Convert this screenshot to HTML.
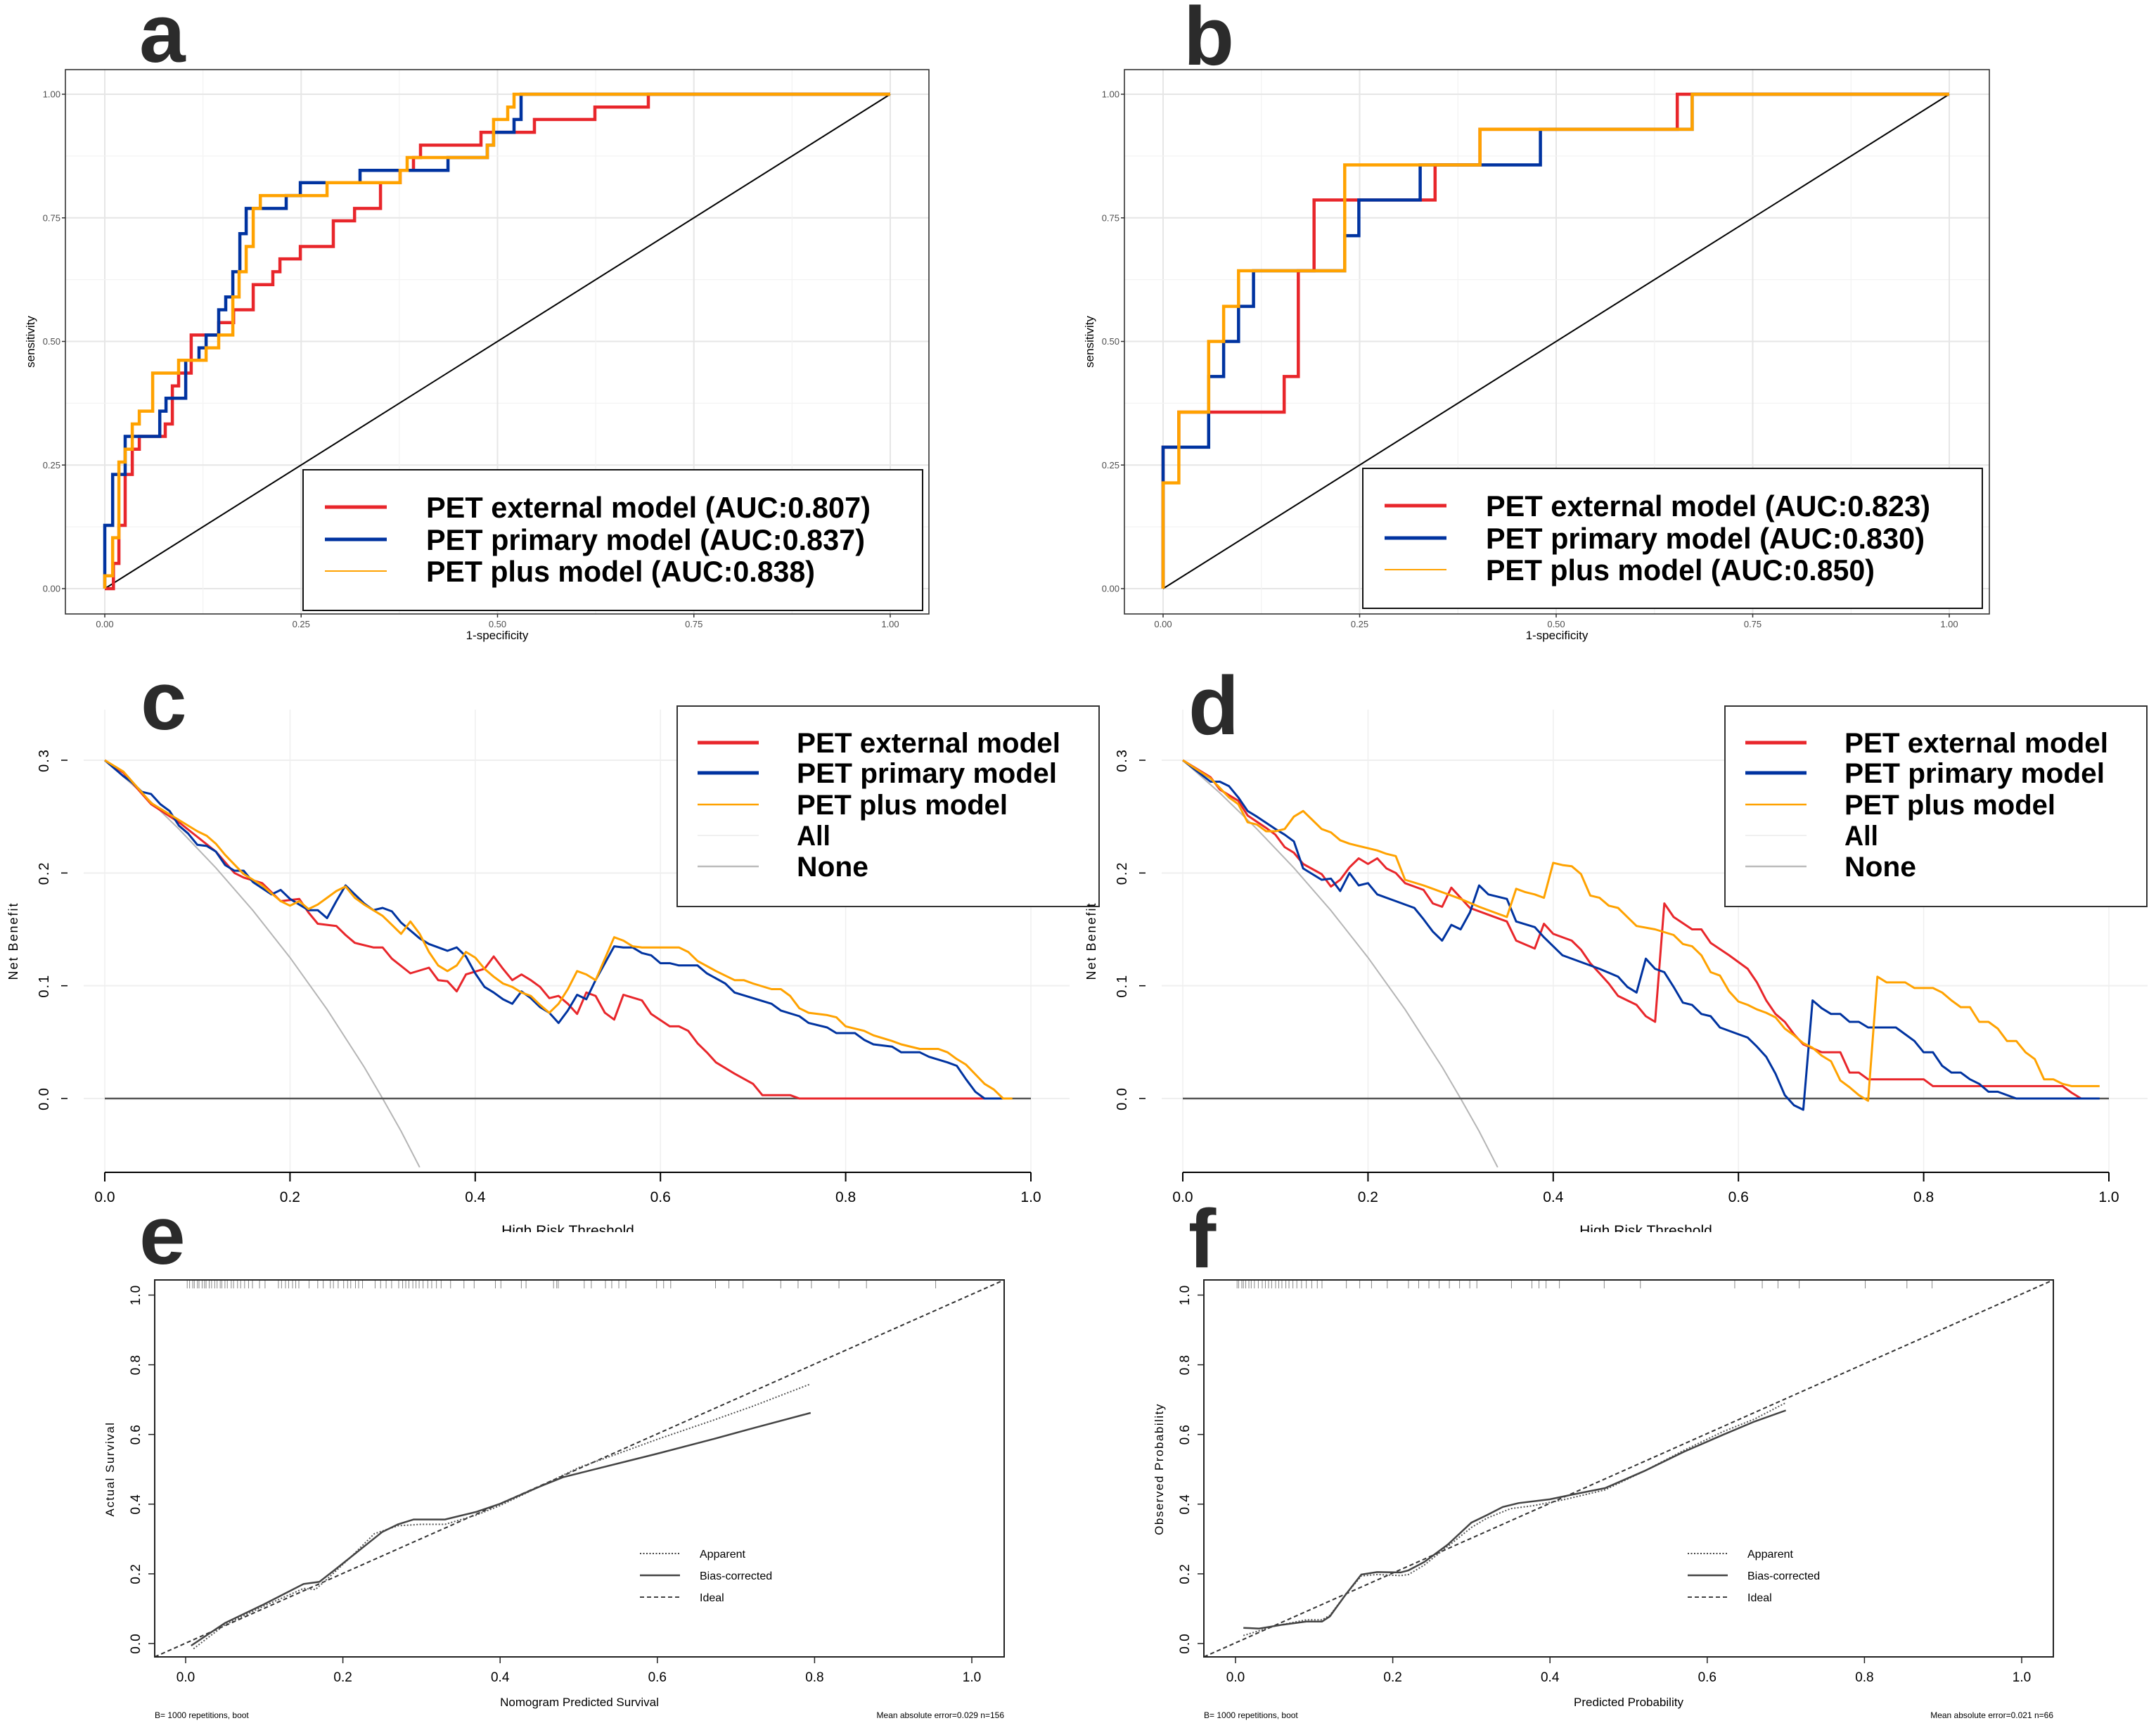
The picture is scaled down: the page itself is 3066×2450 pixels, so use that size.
<!DOCTYPE html>
<html><head><meta charset="utf-8"><title>Figure</title>
<style>
html,body{margin:0;padding:0;background:#fff;}
svg{display:block;font-family:"Liberation Sans",Arial,sans-serif;}
</style></head>
<body>
<svg id="fig" xmlns="http://www.w3.org/2000/svg" width="3066" height="2450" viewBox="0 0 3066 2450">
<rect x="0" y="0" width="3066" height="2450" fill="#fff"/>
<defs>
<clipPath id="clipTop"><rect x="0" y="0" width="3066" height="1752"/></clipPath>
</defs>
</svg>
<script>
// ---------- ROC data (panel a) ----------
const aRedFpr=[0.011,0.018,0.026,0.035,0.044,0.077,0.086,0.094,0.110,0.145,0.164,0.189,0.214,0.223,0.249,0.291,0.318,0.351,0.376,0.393,0.402,0.479,0.547,0.624,0.692];
const aRedTpr=[0.051,0.128,0.231,0.282,0.308,0.333,0.410,0.436,0.513,0.538,0.564,0.615,0.641,0.667,0.692,0.744,0.769,0.821,0.846,0.872,0.897,0.923,0.949,0.974,1];
const aBlueFpr=[0,0.010,0.026,0.070,0.078,0.103,0.120,0.129,0.145,0.154,0.163,0.172,0.180,0.231,0.249,0.325,0.437,0.487,0.495,0.521,0.530];
const aBlueTpr=[0.128,0.231,0.308,0.359,0.385,0.462,0.487,0.513,0.564,0.590,0.641,0.718,0.769,0.795,0.821,0.846,0.872,0.897,0.923,0.949,1];
const aOrFpr=[0,0.010,0.018,0.026,0.035,0.044,0.061,0.094,0.129,0.145,0.163,0.171,0.180,0.189,0.198,0.283,0.376,0.385,0.487,0.495,0.513,0.521];
const aOrTpr=[0.026,0.103,0.256,0.282,0.333,0.359,0.436,0.462,0.487,0.513,0.590,0.641,0.692,0.769,0.795,0.821,0.846,0.872,0.897,0.949,0.974,1];
// ---------- ROC data (panel b) ----------
const bRedFpr=[0,0.020,0.154,0.172,0.192,0.346,0.403,0.654];
const bRedTpr=[0.286,0.357,0.429,0.643,0.786,0.857,0.929,1];
const bBlueFpr=[0,0.058,0.077,0.096,0.115,0.231,0.249,0.327,0.480,0.673];
const bBlueTpr=[0.286,0.429,0.5,0.571,0.643,0.714,0.786,0.857,0.929,1];
const bOrFpr=[0,0.020,0.058,0.077,0.096,0.231,0.403,0.673];
const bOrTpr=[0.214,0.357,0.5,0.571,0.643,0.857,0.929,1];
const rocTicks=[0,0.25,0.5,0.75,1];
const rocTickLabels=["0.00","0.25","0.50","0.75","1.00"];
const aLegend=["PET external model (AUC:0.807)","PET primary model (AUC:0.837)","PET plus model (AUC:0.838)"];
const bLegend=["PET external model (AUC:0.823)","PET primary model (AUC:0.830)","PET plus model (AUC:0.850)"];
// ---------- DCA data (panel c) ----------
const cRedThr=[0,.02,.05,.08,.10,.12,.14,.15,.17,.19,.21,.22,.23,.25,.26,.27,.29,.30,.31,.33,.35,.36,.37,.38,.39,.41,.42,.43,.44,.45,.46,.47,.48,.49,.50,.51,.52,.53,.54,.55,.56,.58,.59,.61,.62,.63,.64,.65,.66,.68,.70,.71,.74,.75,.97];
const cRedNb=[.3,.289,.261,.245,.232,.219,.200,.196,.191,.175,.177,.165,.155,.153,.145,.138,.134,.134,.124,.111,.116,.105,.104,.095,.110,.115,.126,.115,.105,.110,.105,.099,.089,.091,.084,.075,.094,.091,.076,.070,.092,.087,.075,.064,.064,.060,.049,.041,.032,.022,.013,.003,.003,0,0];
const cBlueThr=[0,.02,.03,.04,.05,.06,.07,.08,.09,.10,.11,.12,.13,.14,.15,.16,.18,.19,.20,.22,.23,.24,.25,.26,.27,.28,.29,.30,.31,.32,.34,.35,.37,.38,.39,.40,.41,.42,.43,.44,.45,.46,.47,.48,.49,.50,.51,.52,.53,.55,.56,.57,.58,.59,.60,.61,.62,.64,.65,.67,.68,.70,.72,.73,.75,.76,.78,.79,.81,.82,.83,.85,.86,.88,.89,.91,.92,.93,.94,.95,.97];
const cBlueNb=[.3,.286,.28,.272,.27,.261,.255,.242,.235,.225,.224,.219,.207,.202,.202,.192,.181,.185,.177,.167,.167,.160,.175,.189,.181,.173,.167,.169,.166,.156,.142,.137,.131,.134,.126,.111,.099,.094,.088,.084,.095,.089,.081,.076,.067,.078,.092,.088,.105,.135,.134,.134,.129,.127,.120,.120,.118,.118,.111,.102,.094,.089,.084,.078,.073,.067,.063,.058,.058,.052,.048,.046,.041,.041,.037,.032,.029,.017,.006,0,0];
const cOrThr=[0,.02,.05,.08,.10,.11,.12,.13,.15,.17,.19,.20,.21,.22,.23,.24,.25,.26,.27,.28,.29,.30,.31,.32,.33,.34,.35,.36,.37,.38,.39,.40,.41,.42,.43,.44,.45,.46,.47,.48,.49,.50,.51,.52,.53,.54,.55,.56,.57,.58,.62,.63,.64,.66,.68,.69,.70,.72,.73,.74,.75,.76,.78,.79,.80,.82,.83,.85,.86,.88,.90,.91,.92,.93,.95,.96,.97,.98];
const cOrNb=[.3,.290,.262,.247,.237,.233,.226,.216,.199,.189,.175,.171,.175,.168,.172,.178,.184,.188,.178,.172,.167,.162,.154,.146,.157,.146,.130,.118,.113,.118,.130,.125,.115,.108,.102,.099,.094,.091,.083,.076,.084,.097,.113,.110,.105,.124,.143,.140,.135,.134,.134,.130,.122,.113,.105,.105,.102,.097,.097,.091,.080,.076,.074,.072,.064,.060,.056,.051,.048,.044,.044,.041,.035,.030,.013,.008,0,0];
// ---------- DCA data (panel d) ----------
const dRedThr=[0,.03,.04,.05,.06,.07,.09,.10,.11,.12,.13,.15,.16,.17,.18,.19,.20,.21,.22,.23,.24,.26,.27,.28,.29,.30,.31,.33,.35,.36,.38,.39,.40,.42,.43,.44,.45,.46,.47,.49,.50,.51,.52,.53,.55,.56,.57,.59,.61,.62,.63,.64,.65,.66,.67,.69,.71,.72,.73,.74,.80,.81,.95,.96,.97];
const dRedNb=[.3,.285,.274,.269,.264,.251,.240,.234,.223,.218,.208,.199,.188,.194,.205,.213,.208,.213,.204,.200,.191,.185,.173,.170,.187,.178,.169,.163,.157,.140,.133,.155,.146,.140,.132,.120,.111,.102,.091,.083,.073,.068,.173,.161,.150,.150,.138,.127,.115,.103,.087,.075,.068,.057,.048,.041,.041,.023,.023,.017,.017,.011,.011,.005,0];
const dBlueThr=[0,.03,.04,.05,.06,.07,.08,.10,.11,.12,.13,.15,.16,.17,.18,.19,.20,.21,.23,.25,.26,.27,.28,.29,.30,.31,.32,.33,.35,.36,.38,.39,.40,.41,.43,.45,.47,.48,.49,.50,.51,.52,.53,.54,.55,.56,.57,.58,.60,.61,.62,.63,.64,.65,.66,.67,.68,.69,.70,.71,.72,.73,.74,.77,.78,.79,.80,.81,.82,.83,.84,.85,.86,.87,.88,.90,.99];
const dBlueNb=[.3,.281,.281,.277,.267,.255,.25,.239,.234,.228,.204,.194,.195,.184,.200,.189,.191,.181,.175,.169,.159,.148,.140,.154,.150,.165,.189,.181,.177,.157,.152,.143,.135,.127,.121,.115,.108,.099,.094,.124,.115,.112,.099,.085,.083,.075,.073,.063,.057,.054,.046,.037,.022,.003,-.006,-.010,.087,.080,.075,.075,.068,.068,.063,.063,.057,.051,.041,.041,.029,.023,.023,.017,.013,.006,.006,0,0];
const dOrThr=[0,.03,.05,.06,.07,.08,.09,.10,.11,.12,.13,.14,.15,.16,.17,.18,.19,.20,.21,.22,.23,.24,.26,.28,.30,.32,.34,.35,.36,.37,.38,.39,.40,.41,.42,.43,.44,.45,.46,.47,.48,.49,.51,.53,.54,.55,.56,.57,.58,.59,.60,.61,.62,.63,.64,.65,.66,.67,.68,.69,.70,.71,.72,.73,.74,.75,.76,.78,.79,.81,.82,.83,.84,.85,.86,.87,.88,.89,.90,.91,.92,.93,.94,.95,.96,.99];
const dOrNb=[.3,.284,.267,.261,.245,.243,.237,.237,.239,.250,.255,.247,.239,.236,.229,.226,.224,.222,.220,.217,.215,.194,.189,.183,.177,.170,.164,.161,.186,.183,.181,.178,.209,.207,.206,.199,.180,.178,.171,.169,.161,.153,.150,.145,.137,.135,.127,.112,.109,.095,.086,.083,.079,.076,.072,.062,.056,.049,.045,.038,.033,.016,.010,.003,-.002,.108,.103,.103,.098,.098,.094,.087,.081,.081,.068,.068,.062,.051,.051,.041,.035,.017,.017,.013,.011,.011];
const allThr=[0,.04,.08,.12,.16,.20,.24,.28,.30,.32,.34];
const allNb=[.3,.271,.239,.2045,.1667,.125,.079,.028,0,-.029,-.061];
const dcaXTicks=[0,0.2,0.4,0.6,0.8,1.0];
const dcaXLabels=["0.0","0.2","0.4","0.6","0.8","1.0"];
const dcaYTicks=[0,0.1,0.2,0.3];
const dcaYLabels=["0.0","0.1","0.2","0.3"];
const dcaLegend=["PET external model","PET primary model","PET plus model","All","None"];
// ---------- Calibration data (panel e) ----------
const eBiasX=[.007,.05,.10,.15,.17,.19,.22,.25,.27,.29,.33,.37,.40,.45,.48,.52,.60,.67,.72,.795];
const eBiasY=[-.006,.059,.113,.171,.177,.212,.266,.320,.342,.356,.356,.378,.401,.450,.477,.5,.545,.586,.617,.662];
const eAppX=[.01,.05,.10,.15,.165,.18,.21,.24,.27,.30,.33,.37,.40,.45,.50,.55,.60,.67,.72,.795];
const eAppY=[-.015,.054,.108,.158,.155,.185,.248,.315,.338,.342,.342,.369,.396,.45,.505,.545,.586,.640,.680,.745];
const eRug=[.002,.005,.009,.011,.015,.017,.021,.024,.026,.030,.033,.037,.040,.044,.046,.050,.053,.058,.061,.066,.070,.075,.080,.085,.094,.101,.118,.122,.127,.131,.136,.140,.144,.157,.168,.175,.184,.188,.194,.201,.206,.210,.216,.220,.225,.241,.248,.255,.262,.271,.276,.280,.284,.289,.293,.297,.302,.308,.313,.319,.325,.337,.354,.367,.394,.401,.427,.433,.468,.472,.474,.507,.516,.534,.542,.551,.560,.599,.608,.617,.674,.691,.709,.757,.779,.796,.831,.866,.954];
// ---------- Calibration data (panel f) ----------
const fBiasX=[.01,.03,.06,.09,.11,.12,.14,.16,.18,.21,.22,.24,.27,.30,.32,.34,.36,.40,.43,.47,.52,.57,.62,.66,.70];
const fBiasY=[.045,.043,.054,.063,.063,.078,.140,.198,.205,.204,.210,.234,.284,.347,.369,.392,.403,.414,.428,.446,.495,.550,.599,.637,.669];
const fAppX=[.01,.05,.09,.11,.12,.14,.16,.18,.21,.22,.24,.27,.30,.32,.35,.38,.42,.47,.52,.57,.62,.66,.70];
const fAppY=[.023,.050,.068,.068,.081,.140,.194,.198,.195,.198,.225,.279,.333,.360,.387,.396,.414,.441,.495,.554,.608,.644,.691];
const fRug=[.002,.004,.008,.010,.013,.017,.020,.024,.029,.034,.038,.042,.046,.051,.055,.059,.064,.068,.073,.078,.084,.090,.097,.104,.110,.141,.158,.173,.193,.220,.233,.246,.259,.272,.285,.298,.307,.351,.377,.386,.395,.412,.469,.515,.635,.670,.690,.717,.801,.854,.886];
const calTicks=[0,0.2,0.4,0.6,0.8,1.0];
const calLabels=["0.0","0.2","0.4","0.6","0.8","1.0"];
const calLegend=["Apparent","Bias-corrected","Ideal"];

const RED="#e8262b", BLUE="#0033a0", ORANGE="#ffa200";
const NS="http://www.w3.org/2000/svg";
const svg=document.getElementById("fig");
function add(parent,tag,attrs,name){
  const el=document.createElementNS(NS,tag);
  for(const k in attrs) el.setAttribute(k,attrs[k]);
  
  
  parent.appendChild(el); return el;
}
function txt(parent,s,attrs,name){const t=add(parent,"text",attrs,name);t.textContent=s;return t;}
function pts(xs,ys,sx,sy){return xs.map((x,i)=>sx(x).toFixed(1)+","+sy(ys[i]).toFixed(1)).join(" ");}
function letter(s,x,y){txt(svg,s,{x:x,y:y,"font-size":118,"font-weight":"bold",fill:"#2b2b2b","font-family":"Liberation Sans, sans-serif"},"panel-label-"+s);}

// ---------- ROC panel ----------
function rocPanel(id,box,px0,px1,py0,py1,series,legendBox,legendTexts){
  const g=add(svg,"g",{},"roc-panel-"+id);
  const sx=v=>px0+v*(px1-px0), sy=v=>py0-v*(py0-py1);
  add(g,"rect",{x:box[0],y:box[1],width:box[2]-box[0],height:box[3]-box[1],fill:"#fff"},"plot-area");
  for(let k=0;k<=8;k++){const v=k/8;const major=k%2===0;
    add(g,"line",{x1:sx(v),x2:sx(v),y1:box[1],y2:box[3],stroke:major?"#e6e6e6":"#f3f3f3","stroke-width":major?2:1.2},"grid-x");
    add(g,"line",{x1:box[0],x2:box[2],y1:sy(v),y2:sy(v),stroke:major?"#e6e6e6":"#f3f3f3","stroke-width":major?2:1.2},"grid-y");}
  add(g,"line",{x1:sx(0),y1:sy(0),x2:sx(1),y2:sy(1),stroke:"#000","stroke-width":2},"diagonal-reference");
  series.forEach(s=>{
    const P=[[0,0]];let prev=0;
    s.f.forEach((f,i)=>{P.push([f,prev]);P.push([f,s.t[i]]);prev=s.t[i];});
    P.push([1,1]);
    add(g,"polyline",{points:P.map(p=>sx(p[0]).toFixed(1)+","+sy(p[1]).toFixed(1)).join(" "),fill:"none",stroke:s.c,"stroke-width":4.5,"stroke-linejoin":"miter"},"roc-curve-"+s.n);
  });
  add(g,"rect",{x:box[0],y:box[1],width:box[2]-box[0],height:box[3]-box[1],fill:"none",stroke:"#333","stroke-width":1.6},"panel-border");
  rocTicks.forEach((v,i)=>{
    add(g,"line",{x1:sx(v),x2:sx(v),y1:box[3],y2:box[3]+5,stroke:"#333","stroke-width":1.5},"x-tick");
    txt(g,rocTickLabels[i],{x:sx(v),y:box[3]+19,"font-size":13,fill:"#4d4d4d","text-anchor":"middle"},"x-tick-label");
    add(g,"line",{x1:box[0]-5,x2:box[0],y1:sy(v),y2:sy(v),stroke:"#333","stroke-width":1.5},"y-tick");
    txt(g,rocTickLabels[i],{x:box[0]-7,y:sy(v)+4.5,"font-size":13,fill:"#4d4d4d","text-anchor":"end"},"y-tick-label");
  });
  txt(g,"1-specificity",{x:(box[0]+box[2])/2,y:box[3]+36,"font-size":17,"text-anchor":"middle"},"x-axis-title");
  const ty=(box[1]+box[3])/2;
  txt(g,"sensitivity",{x:box[0]-44,y:ty,"font-size":17,"text-anchor":"middle",transform:"rotate(-90 "+(box[0]-44)+" "+ty+")"},"y-axis-title");
  const lg=add(g,"g",{},"legend");
  add(lg,"rect",{x:legendBox[0],y:legendBox[1],width:legendBox[2]-legendBox[0],height:legendBox[3]-legendBox[1],fill:"#fff",stroke:"#111","stroke-width":2},"legend-box");
  const rowY=[legendBox[1]+53,legendBox[1]+99,legendBox[1]+144];
  const widths=[632,624,553];
  series.forEach((s,i)=>{
    add(lg,"line",{x1:legendBox[0]+31,x2:legendBox[0]+119,y1:rowY[i],y2:rowY[i],stroke:s.c,"stroke-width":i===2?2:5},"legend-key-"+s.n);
    txt(lg,legendTexts[i],{x:legendBox[0]+175,y:rowY[i]+15,"font-size":42,"font-weight":"bold",textLength:widths[i],lengthAdjust:"spacingAndGlyphs"},"legend-label-"+s.n);
  });
}
rocPanel("a",[93,99,1321,873],149,1266,837,134,
 [{f:aRedFpr,t:aRedTpr,c:RED,n:"external"},{f:aBlueFpr,t:aBlueTpr,c:BLUE,n:"primary"},{f:aOrFpr,t:aOrTpr,c:ORANGE,n:"plus"}],
 [431,668,1312,868],aLegend);
rocPanel("b",[1599,99,2829,873],1654,2772,837,134,
 [{f:bRedFpr,t:bRedTpr,c:RED,n:"external"},{f:bBlueFpr,t:bBlueTpr,c:BLUE,n:"primary"},{f:bOrFpr,t:bOrTpr,c:ORANGE,n:"plus"}],
 [1938,666,2819,865],bLegend);
letter("a",198,88);letter("b",1683,92);

// ---------- DCA panel ----------
function dcaPanel(id,px0,series,legendX){
  const g=add(svg,"g",{"clip-path":"url(#clipTop)"},"dca-panel-"+id);
  const px1=px0+1317, y0=1562, k=1603.3, axisY=1667, topY=1009;
  const sx=v=>px0+v*(px1-px0), sy=v=>y0-v*k;
  const cid="clip-dca-"+id;
  const cp=add(svg.querySelector("defs"),"clipPath",{id:cid},"clip");
  add(cp,"rect",{x:px0-60,y:topY-20,width:1450,height:axisY-topY+20},"clip-rect");
  dcaXTicks.forEach(v=>add(g,"line",{x1:sx(v),x2:sx(v),y1:topY,y2:axisY,stroke:"#efefef","stroke-width":1.5},"grid-x"));
  dcaYTicks.forEach(v=>add(g,"line",{x1:px0-30,x2:px0+1372,y1:sy(v),y2:sy(v),stroke:"#efefef","stroke-width":2},"grid-y"));
  const pg=add(g,"g",{"clip-path":"url(#"+cid+")"},"plot-lines");
  add(pg,"polyline",{points:pts(allThr,allNb,sx,sy),fill:"none",stroke:"#b5b5b5","stroke-width":2},"treat-all-curve");
  add(pg,"line",{x1:sx(0),x2:sx(1),y1:sy(0),y2:sy(0),stroke:"#555","stroke-width":2.5},"treat-none-line");
  series.forEach(s=>add(pg,"polyline",{points:pts(s.x,s.y,sx,sy),fill:"none",stroke:s.c,"stroke-width":3,"stroke-linejoin":"round"},"dca-curve-"+s.n));
  add(g,"line",{x1:sx(0),x2:sx(1),y1:axisY,y2:axisY,stroke:"#000","stroke-width":2},"x-axis-line");
  dcaXTicks.forEach((v,i)=>{
    add(g,"line",{x1:sx(v),x2:sx(v),y1:axisY,y2:axisY+13,stroke:"#000","stroke-width":2},"x-tick");
    txt(g,dcaXLabels[i],{x:sx(v),y:1709,"font-size":21,"text-anchor":"middle"},"x-tick-label");
  });
  dcaYTicks.forEach((v,i)=>{
    add(g,"line",{x1:px0-62,x2:px0-53,y1:sy(v),y2:sy(v),stroke:"#000","stroke-width":1.5},"y-tick");
    const lx=px0-80;
    txt(g,dcaYLabels[i],{x:lx,y:sy(v),"font-size":20,"text-anchor":"middle",transform:"rotate(-90 "+lx+" "+sy(v)+")","letter-spacing":"2"},"y-tick-label");
  });
  const tx=px0-124, ty=1338;
  txt(g,"Net Benefit",{x:tx,y:ty,"font-size":18,"text-anchor":"middle","letter-spacing":"2",transform:"rotate(-90 "+tx+" "+ty+")"},"y-axis-title");
  txt(g,"High Risk Threshold",{x:sx(0.5),y:1757,"font-size":21,"text-anchor":"middle"},"x-axis-title");
  const lg=add(g,"g",{},"legend");
  add(lg,"rect",{x:legendX,y:1004,width:600,height:285,fill:"#fff",stroke:"#333","stroke-width":2},"legend-box");
  const rowY=[1056,1099,1144,1188,1232];
  const cols=[RED,BLUE,ORANGE,"#f0f0f0","#bbbbbb"];
  const lw=[5,5,2.5,2,2.5];
  const widths=[375,370,300,48,102];
  dcaLegend.forEach((s,i)=>{
    add(lg,"line",{x1:legendX+29,x2:legendX+116,y1:rowY[i],y2:rowY[i],stroke:cols[i],"stroke-width":lw[i]},"legend-key");
    txt(lg,s,{x:legendX+170,y:rowY[i]+14,"font-size":40,"font-weight":"bold",textLength:widths[i],lengthAdjust:"spacingAndGlyphs"},"legend-label");
  });
}
dcaPanel("c",149,[{x:cRedThr,y:cRedNb,c:RED,n:"external"},{x:cBlueThr,y:cBlueNb,c:BLUE,n:"primary"},{x:cOrThr,y:cOrNb,c:ORANGE,n:"plus"}],963);
dcaPanel("d",1682,[{x:dRedThr,y:dRedNb,c:RED,n:"external"},{x:dBlueThr,y:dBlueNb,c:BLUE,n:"primary"},{x:dOrThr,y:dOrNb,c:ORANGE,n:"plus"}],2453);
letter("c",200,1037);letter("d",1690,1044);

// ---------- Calibration panel ----------
function calPanel(id,box,px0,series,rug,ytitle,xtitle,mae,legX){
  const g=add(svg,"g",{},"calibration-panel-"+id);
  const px1=px0+1118, y0=2337, k=495.5;
  const sx=v=>px0+v*(px1-px0), sy=v=>y0-v*k;
  const cid="clip-cal-"+id;
  const cp=add(svg.querySelector("defs"),"clipPath",{id:cid},"clip");
  add(cp,"rect",{x:box[0],y:box[1],width:box[2]-box[0],height:box[3]-box[1]},"clip-rect");
  const pg=add(g,"g",{"clip-path":"url(#"+cid+")"},"plot-lines");
  add(pg,"line",{x1:box[0],y1:box[3],x2:box[2],y2:box[1],stroke:"#333","stroke-width":2,"stroke-dasharray":"6,4"},"ideal-line");
  add(pg,"polyline",{points:pts(series.appX,series.appY,sx,sy),fill:"none",stroke:"#555","stroke-width":2,"stroke-dasharray":"2,2.5"},"apparent-curve");
  add(pg,"polyline",{points:pts(series.biasX,series.biasY,sx,sy),fill:"none",stroke:"#444","stroke-width":2.5},"bias-corrected-curve");
  rug.forEach(v=>add(pg,"line",{x1:sx(v),x2:sx(v),y1:box[1],y2:box[1]+12,stroke:"#888","stroke-width":1},"rug-tick"));
  add(g,"rect",{x:box[0],y:box[1],width:box[2]-box[0],height:box[3]-box[1],fill:"none",stroke:"#222","stroke-width":2},"panel-border");
  calTicks.forEach((v,i)=>{
    add(g,"line",{x1:sx(v),x2:sx(v),y1:box[3],y2:box[3]+9,stroke:"#222","stroke-width":1.5},"x-tick");
    txt(g,calLabels[i],{x:sx(v),y:2391,"font-size":19,"text-anchor":"middle"},"x-tick-label");
    add(g,"line",{x1:box[0]-9,x2:box[0],y1:sy(v),y2:sy(v),stroke:"#222","stroke-width":1.5},"y-tick");
    const lx=box[0]-21;
    txt(g,calLabels[i],{x:lx,y:sy(v),"font-size":19,"text-anchor":"middle",transform:"rotate(-90 "+lx+" "+sy(v)+")","letter-spacing":"1"},"y-tick-label");
  });
  const tx=box[0]-58, ty=2089;
  txt(g,ytitle,{x:tx,y:ty,"font-size":17,"text-anchor":"middle","letter-spacing":"1.5",transform:"rotate(-90 "+tx+" "+ty+")"},"y-axis-title");
  txt(g,xtitle,{x:(box[0]+box[2])/2,y:2426,"font-size":17,"text-anchor":"middle"},"x-axis-title");
  txt(g,"B= 1000 repetitions, boot",{x:box[0],y:2443,"font-size":12},"footnote-left");
  txt(g,mae,{x:box[2],y:2443,"font-size":12,"text-anchor":"end"},"footnote-right");
  const rowY=[2209,2240,2271];
  const dash=["2,2.5",null,"6,4"];
  calLegend.forEach((s,i)=>{
    const a={x1:legX,x2:legX+57,y1:rowY[i],y2:rowY[i],stroke:"#444","stroke-width":i===1?2.5:2};
    if(dash[i]) a["stroke-dasharray"]=dash[i];
    add(g,"line",a,"legend-key");
    txt(g,s,{x:legX+85,y:rowY[i]+6,"font-size":16},"legend-label");
  });
}
calPanel("e",[220,1820,1428,2356],264,{appX:eAppX,appY:eAppY,biasX:eBiasX,biasY:eBiasY},eRug,"Actual Survival","Nomogram Predicted Survival","Mean absolute error=0.029 n=156",910);
calPanel("f",[1712,1820,2920,2356],1757,{appX:fAppX,appY:fAppY,biasX:fBiasX,biasY:fBiasY},fRug,"Observed Probability","Predicted Probability","Mean absolute error=0.021 n=66",2400);
letter("e",198,1797);letter("f",1690,1802);
</script>
</body></html>
